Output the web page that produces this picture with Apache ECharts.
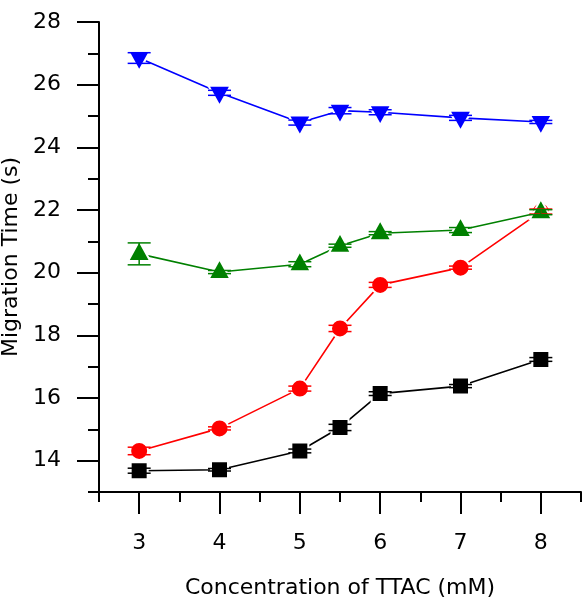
<!DOCTYPE html>
<html>
<head>
<meta charset="utf-8">
<script src="https://cdn.jsdelivr.net/npm/echarts@6/dist/echarts.min.js"></script>
<style>html,body{margin:0;padding:0;background:#fff;}#c{width:582px;height:600px;}</style>
</head>
<body>
<div id="c"></div>
<script>
var concentrations = [3, 4, 5, 5.5, 6, 7, 8];
var blueVals  = [26.85, 25.74, 24.79, 25.17, 25.12, 24.94, 24.81];
var blueErr   = [0.17, 0.08, 0.08, 0.10, 0.08, 0.08, 0.05];
var greenVals = [20.60, 20.02, 20.27, 20.86, 21.26, 21.36, 21.93];
var greenErr  = [0.35, 0.05, 0.08, 0.05, 0.05, 0.08, 0.08];
var redVals   = [14.31, 15.03, 16.30, 18.22, 19.61, 20.16, 21.95];
var redErr    = [0.12, 0.05, 0.08, 0.10, 0.08, 0.05, 0.08];
var blackVals = [13.68, 13.71, 14.31, 15.06, 16.14, 16.38, 17.23];
var blackErr  = [0.08, 0.04, 0.06, 0.10, 0.06, 0.05, 0.06];
var xMajorTicks = [3, 4, 5, 6, 7, 8];
var xMinorTicks = [2.5, 3.5, 4.5, 5.5, 6.5, 7.5, 8.5];
var yMajorTicks = [14, 16, 18, 20, 22, 24, 26, 28];
var yMinorTicks = [13, 15, 17, 19, 21, 23, 25, 27];

var FONT = '"DejaVu Sans", sans-serif';

function pairs(vals) { return concentrations.map(function (x, i) { return [x, vals[i]]; }); }
function errData(vals, errs) { return concentrations.map(function (x, i) { return [x, vals[i] - errs[i], vals[i] + errs[i]]; }); }

function errSeries(vals, errs, color) {
  return {
    type: 'custom',
    xAxisIndex: 0, yAxisIndex: 0,
    z: 5,
    data: errData(vals, errs),
    renderItem: function (params, api) {
      var lo = api.coord([api.value(0), api.value(1)]);
      var hi = api.coord([api.value(0), api.value(2)]);
      var hw = 11.5;
      var st = { stroke: color, lineWidth: 1.5 };
      return {
        type: 'group',
        children: [
          { type: 'line', shape: { x1: lo[0], y1: lo[1], x2: hi[0], y2: hi[1] }, style: st },
          { type: 'line', shape: { x1: lo[0] - hw, y1: lo[1], x2: lo[0] + hw, y2: lo[1] }, style: st },
          { type: 'line', shape: { x1: hi[0] - hw, y1: hi[1], x2: hi[0] + hw, y2: hi[1] }, style: st }
        ]
      };
    }
  };
}

function lineSeries(vals, color, symbol, size, rotate, offset) {
  return {
    type: 'line',
    xAxisIndex: 0, yAxisIndex: 0,
    data: pairs(vals),
    symbol: symbol,
    symbolSize: size,
    symbolRotate: rotate,
    symbolOffset: offset,
    showAllSymbol: true,
    lineStyle: { color: color, width: 1.6 },
    itemStyle: { color: color, borderColor: '#ffffff', borderWidth: 2, opacity: 1 },
    z: 3,
    animation: false
  };
}

var AX = { color: '#000', width: 2 };

var chart = echarts.init(document.getElementById('c'), null, { renderer: 'canvas' });
chart.setOption({
  animation: false,
  backgroundColor: '#ffffff',
  grid: { left: 99, top: 22, right: 1, bottom: 108, containLabel: false, outerBoundsMode: 'none' },
  xAxis: [{
    type: 'value', position: 'bottom', min: 2.5, max: 8.5,
    name: 'Concentration of TTAC (mM)', nameLocation: 'middle', nameGap: 85,
    nameTextStyle: { fontSize: 22, color: '#000', fontFamily: FONT },
    axisLine: { show: true, lineStyle: AX },
    axisTick: { show: true, inside: false, length: 22, customValues: xMajorTicks, lineStyle: AX },
    axisLabel: { show: true, customValues: xMajorTicks, margin: 40, fontSize: 22, color: '#000', fontFamily: FONT },
    splitLine: { show: false }
  }, {
    type: 'value', position: 'bottom', min: 2.5, max: 8.5, offset: 0,
    axisLine: { show: false },
    axisTick: { show: true, inside: false, length: 10, customValues: xMinorTicks, lineStyle: AX },
    axisLabel: { show: false },
    splitLine: { show: false }
  }],
  yAxis: [{
    type: 'value', position: 'left', min: 13, max: 28,
    name: 'Migration Time (s)', nameLocation: 'middle', nameGap: 76,
    nameTextStyle: { fontSize: 22, color: '#000', fontFamily: FONT },
    axisLine: { show: true, lineStyle: AX },
    axisTick: { show: true, inside: false, length: 22, customValues: yMajorTicks, lineStyle: AX },
    axisLabel: { show: true, customValues: yMajorTicks, margin: 38, fontSize: 22, color: '#000', fontFamily: FONT },
    splitLine: { show: false }
  }, {
    type: 'value', position: 'left', min: 13, max: 28, offset: 0,
    axisLine: { show: false },
    axisTick: { show: true, inside: false, length: 11, customValues: yMinorTicks, lineStyle: AX },
    axisLabel: { show: false },
    splitLine: { show: false }
  }],
  series: [
    lineSeries(blackVals, '#000000', 'rect', 17, 0, [0, 0]),
    lineSeries(redVals, '#ff0000', 'circle', 18, 0, [0, 0]),
    lineSeries(greenVals, '#008000', 'triangle', [22, 20], 0, [0, -3]),
    lineSeries(blueVals, '#0000ff', 'triangle', [22, 20], 180, [0, 3]),
    errSeries(blackVals, blackErr, '#000000'),
    errSeries(redVals, redErr, '#ff0000'),
    errSeries(greenVals, greenErr, '#008000'),
    errSeries(blueVals, blueErr, '#0000ff')
  ]
});
</script>
</body>
</html>
